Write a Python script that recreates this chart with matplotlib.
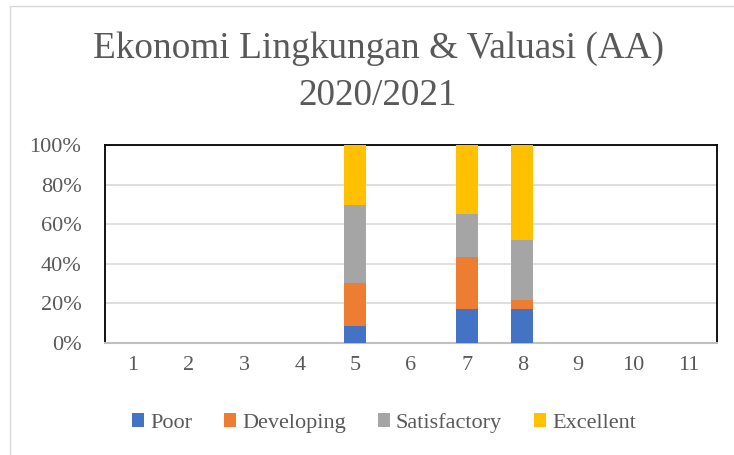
import matplotlib

matplotlib.use("Agg")
import matplotlib.pyplot as plt  # noqa: E402
import numpy as np  # noqa: E402
from matplotlib.patches import Rectangle  # noqa: E402

# dados (percentual por categoria)
categories = ["1", "2", "3", "4", "5", "6", "7", "8", "9", "10", "11"]
poor = [0, 0, 0, 0, 8.7, 0, 17.4, 17.4, 0, 0, 0]
developing = [0, 0, 0, 0, 21.7, 0, 26.1, 4.3, 0, 0, 0]
satisfactory = [0, 0, 0, 0, 39.1, 0, 21.7, 30.4, 0, 0, 0]
excellent = [0, 0, 0, 0, 30.4, 0, 34.8, 47.8, 0, 0, 0]

series = [
    ("Poor", poor, "#4472c4"),
    ("Developing", developing, "#ed7d31"),
    ("Satisfactory", satisfactory, "#a5a5a5"),
    ("Excellent", excellent, "#ffc000"),
]

TXT = "#595959"
plt.rcParams["font.family"] = ["Liberation Serif", "DejaVu Serif"]

fig = plt.figure(figsize=(7.34, 4.55), dpi=100)
ax = fig.add_axes([105 / 734, 1 - 343 / 455, (717 - 105) / 734, (343 - 145) / 455])

# borda externa do grafico
fig.patches.append(Rectangle((10 / 734, -0.01), 1.02, 1 - 6 / 455 + 0.01,
                             transform=fig.transFigure, fill=False,
                             edgecolor="#d9d9d9", linewidth=1.0))

x = np.arange(len(categories))
bottom = np.zeros(len(categories))
for name, vals, color in series:
    vals = np.array(vals, dtype=float)
    ax.bar(x, vals, bottom=bottom, width=0.4, color=color, label=name,
           linewidth=0, zorder=3)
    bottom += vals

ax.set_xlim(-0.5, len(categories) - 0.5)
ax.set_ylim(0, 100)
ax.set_yticks(np.arange(0, 101, 20))
ax.set_yticklabels([f"{v}%" for v in range(0, 101, 20)])
ax.set_xticks(x)
ax.set_xticklabels(categories)
ax.tick_params(length=0, labelsize=16, colors=TXT)
ax.tick_params(axis="y", pad=17)
ax.tick_params(axis="x", pad=9)
ax.yaxis.grid(True, color="#d9d9d9", linewidth=1.2, zorder=0)
ax.set_axisbelow(True)

for side in ("top", "left", "right"):
    ax.spines[side].set_color("black")
    ax.spines[side].set_linewidth(1.3)
ax.spines["bottom"].set_color("#bfbfbf")
ax.spines["bottom"].set_linewidth(1.5)

cx = 378 / 734
fig.text(cx, 1 - 49 / 455, "Ekonomi Lingkungan & Valuasi (AA)", ha="center",
         va="center", fontsize=26.8, color=TXT)
fig.text(cx, 1 - 96 / 455, "2020/2021", ha="center", va="center",
         fontsize=26.8, color=TXT)

leg = fig.legend(loc="center", bbox_to_anchor=(384 / 734, 1 - 423 / 455), ncol=4,
                 frameon=False, fontsize=16, handlelength=0.55, handleheight=0.55,
                 handletextpad=0.25, columnspacing=1.45)
for t in leg.get_texts():
    t.set_color(TXT)

fig.savefig("out.png", dpi=100)
